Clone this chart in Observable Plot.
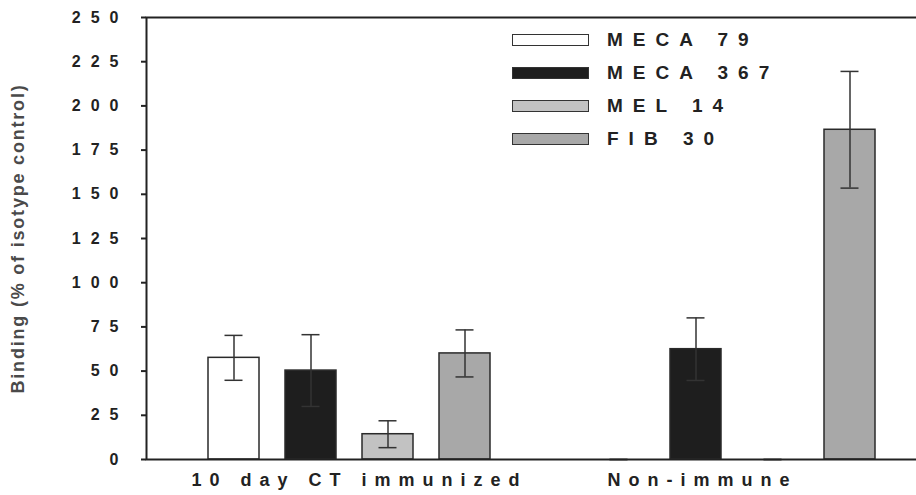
<!DOCTYPE html>
<html>
<head>
<meta charset="utf-8">
<script src="https://cdn.jsdelivr.net/npm/d3@7"></script>
<script src="https://cdn.jsdelivr.net/npm/@observablehq/plot@0.6"></script>
<style>
  html, body { margin: 0; padding: 0; background: #fff; }
  #chart { position: relative; width: 916px; height: 495px; font-family: "Liberation Sans", Arial, sans-serif; }
  #chart svg { display: block; }
  g[aria-label="y-axis tick label"] text { letter-spacing: 10px; font-weight: bold; font-size: 16px; fill: #222; }
  g[aria-label="y-axis label"] text { font-weight: bold; font-size: 18px; fill: #4a4a4a; letter-spacing: 1.8px; }
  g[aria-label="text"] text { letter-spacing: 8px; }
  #legend { position: absolute; left: 512px; top: 23px; }
  .row { display: flex; align-items: center; height: 33px; }
  .sw { width: 75px; height: 10px; border: 1.5px solid #333; margin-right: 18px; }
  .lab { font-size: 19px; font-weight: bold; letter-spacing: 10px; color: #222; }
</style>
</head>
<body>
<div id="chart"></div>
<script>
// ---- data ----
const groups = ["10 day CT immunized", "Non-immune"];
const series = ["MECA 79", "MECA 367", "MEL 14", "FIB 30"];
const immunizedMeans = [57.5, 50.3, 14.3, 60.0];
const immunizedErrors = [12.7, 20.3, 7.6, 13.3];
const nonImmuneMeans = [0, 62.4, 0, 186.5];
const nonImmuneErrors = [0, 17.7, 0, 33.0];
const yTicks = [0, 25, 50, 75, 100, 125, 150, 175, 200, 225, 250];
const yLabel = "Binding (% of isotype control)";

// ---- styles ----
const seriesColors = ["#ffffff", "#1e1e1e", "#c2c2c2", "#a8a8a8"];

const keyOf = (g, s) => `${g}|${s}`;
const rows = [];
series.forEach((s, i) => rows.push({group: groups[0], series: s, key: keyOf(groups[0], s), mean: immunizedMeans[i], err: immunizedErrors[i]}));
series.forEach((s, i) => rows.push({group: groups[1], series: s, key: keyOf(groups[1], s), mean: nonImmuneMeans[i], err: nonImmuneErrors[i]}));
const xDomain = [...series.map(s => keyOf(groups[0], s)), "gap", ...series.map(s => keyOf(groups[1], s))];

const labelStyle = {frameAnchor: "bottom", dy: 26, fontSize: 18, fontWeight: "bold", fill: "#222", text: d => d};

const chart = Plot.plot({
  width: 916,
  height: 495,
  marginLeft: 146,
  marginRight: 0,
  marginTop: 17,
  marginBottom: 36,
  style: {fontFamily: "'Liberation Sans', Arial, sans-serif", background: "#fff", overflow: "visible"},
  x: {domain: xDomain, range: [195, 888], paddingInner: 26 / 77, paddingOuter: 13 / 77, axis: null},
  y: {domain: [0, 250], axis: null},
  color: {domain: series, range: seriesColors},
  marks: [
    Plot.barY(rows, {x: "key", y: "mean", fill: "series", stroke: "#2a2a2a", strokeWidth: 1.5, filter: d => d.mean > 0}),
    Plot.ruleX(rows, {x: "key", y1: d => d.mean - d.err, y2: d => d.mean + d.err, stroke: "#333", strokeWidth: 1.5}),
    Plot.tickY(rows, {x: "key", y: d => d.mean + d.err, insetLeft: 16.5, insetRight: 16.5, stroke: "#333", strokeWidth: 1.5}),
    Plot.tickY(rows, {x: "key", y: d => d.mean - d.err, insetLeft: 16.5, insetRight: 16.5, stroke: "#333", strokeWidth: 1.5}),
    Plot.axisY({ticks: yTicks, tickSize: 5, tickPadding: 13, tickFormat: d => String(d), stroke: "#222", strokeWidth: 2,
      label: yLabel, labelAnchor: "center", labelOffset: 135, labelArrow: "none"}),
    Plot.frame({stroke: "#222", strokeWidth: 2, insetRight: -6}),
    Plot.text([groups[0]], {x: () => keyOf(groups[0], series[1]), dx: 48.5, ...labelStyle}),
    Plot.text([groups[1]], {x: () => keyOf(groups[1], series[1]), dx: 6.5, ...labelStyle})
  ]
});
const host = document.getElementById("chart");
host.appendChild(chart);

// legend (HTML overlay)
const legend = document.createElement("div");
legend.id = "legend";
series.forEach((s, i) => {
  const row = document.createElement("div");
  row.className = "row";
  const sw = document.createElement("div");
  sw.className = "sw";
  sw.style.background = seriesColors[i];
  const lab = document.createElement("span");
  lab.className = "lab";
  lab.textContent = s;
  row.appendChild(sw);
  row.appendChild(lab);
  legend.appendChild(row);
});
host.appendChild(legend);
</script>
</body>
</html>
